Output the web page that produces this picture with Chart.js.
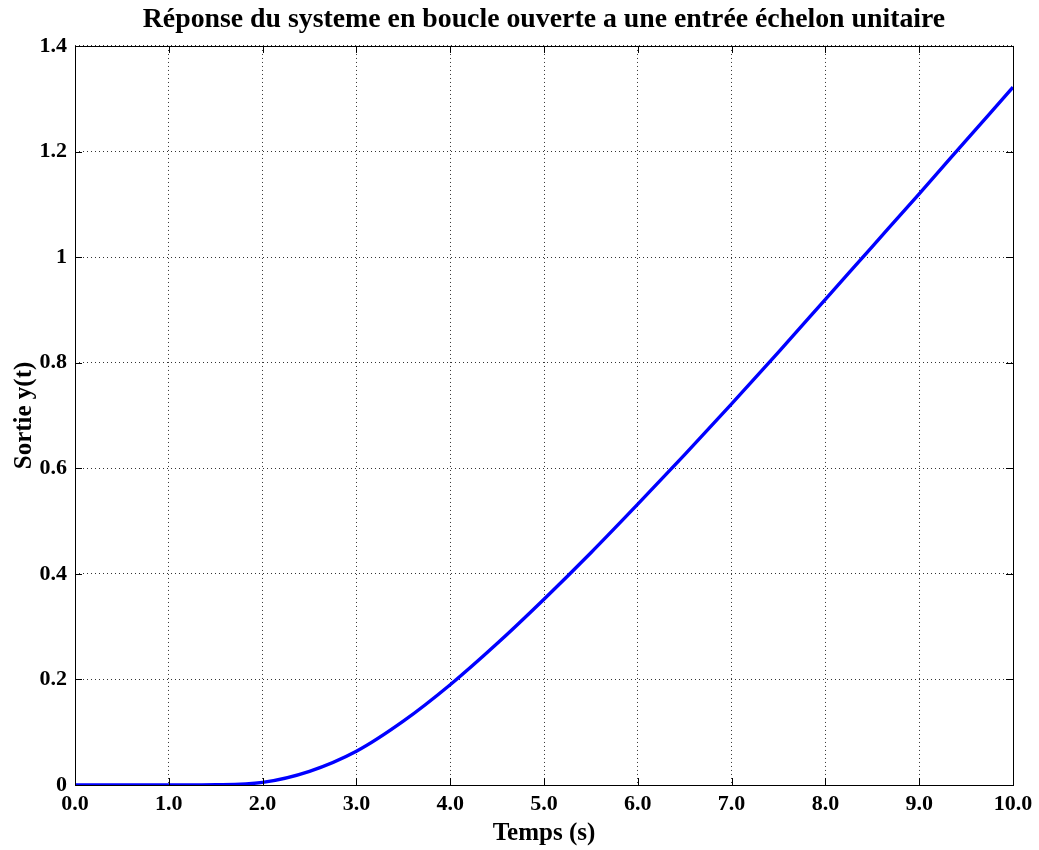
<!DOCTYPE html>
<html>
<head>
<meta charset="utf-8">
<script src="https://cdn.jsdelivr.net/npm/chart.js@4.4.1/dist/chart.umd.min.js"></script>
<style>
html,body{margin:0;padding:0;background:#fff;}
#wrap{width:1039px;height:850px;}
</style>
</head>
<body>
<div id="wrap"><canvas id="c" width="1039" height="850"></canvas></div>
<script>
const temps  = [0, 0.5, 1.0, 1.5, 2.0, 2.5, 3.0, 3.5, 4.0, 4.5, 5.0, 5.5, 6.0, 6.5, 7.0, 7.5, 8.0, 8.5, 9.0, 9.5, 10.0];
const sortie = [0, 0, 0, 0.0005, 0.005, 0.026, 0.064, 0.121, 0.19, 0.268, 0.352, 0.44, 0.532, 0.626, 0.722, 0.82, 0.92, 1.02, 1.12, 1.221, 1.322];
const xTicks = [0,1,2,3,4,5,6,7,8,9,10];
const yTicks = [0,0.2,0.4,0.6,0.8,1,1.2,1.4];
const titleText = "Réponse du systeme en boucle ouverte a une entrée échelon unitaire";
const xLabel = "Temps (s)";
const yLabel = "Sortie y(t)";

const FONT = "'Liberation Serif','Times New Roman',serif";

const frame = {
  id:'frame',
  afterDraw(chart){
    const {ctx, chartArea:a, scales:{x,y}} = chart;
    ctx.save();
    ctx.strokeStyle='#000';
    ctx.lineWidth=1;
    ctx.beginPath();
    xTicks.forEach(v=>{
      const px=Math.round(x.getPixelForValue(v))+0.5;
      ctx.moveTo(px,a.bottom); ctx.lineTo(px,a.bottom-7);
      ctx.moveTo(px,a.top); ctx.lineTo(px,a.top+7);
    });
    yTicks.forEach(v=>{
      const py=Math.round(y.getPixelForValue(v))+0.5;
      ctx.moveTo(a.left,py); ctx.lineTo(a.left+7,py);
      ctx.moveTo(a.right,py); ctx.lineTo(a.right-7,py);
    });
    ctx.stroke();
    ctx.strokeRect(Math.round(a.left)+0.5, Math.round(a.top)+0.5, Math.round(a.right-a.left), Math.round(a.bottom-a.top));
    ctx.restore();
  }
};

new Chart(document.getElementById('c'), {
  type:'line',
  data:{
    datasets:[{
      data: temps.map((t,i)=>({x:t,y:sortie[i]})),
      borderColor:'#0000ff',
      borderWidth:3.4,
      pointRadius:0,
      cubicInterpolationMode:'monotone',
      fill:false
    }]
  },
  options:{
    responsive:false,
    animation:false,
    devicePixelRatio:1,
    layout:{padding:{left:0,right:26,top:0,bottom:0}},
    plugins:{
      legend:{display:false},
      tooltip:{enabled:false},
      title:{
        display:true,
        fullSize:false,
        text:titleText,
        color:'#000',
        font:{family:FONT,size:27.8,weight:'bold'},
        padding:{top:3,bottom:9.6}
      }
    },
    scales:{
      x:{
        type:'linear',
        min:0,max:10,
        afterBuildTicks(s){ s.ticks = xTicks.map(v=>({value:v})); },
        afterFit(s){ s.height=65; },
        border:{display:false, dash:[1,3]},
        grid:{color:'rgba(0,0,0,0.8)', drawTicks:false, lineWidth:1},
        ticks:{color:'#000', padding:6, font:{family:FONT,size:22,weight:'bold'}, callback:v=>v.toFixed(1), maxRotation:0, autoSkip:false},
        title:{display:true,text:xLabel,color:'#000',font:{family:FONT,size:25,weight:'bold'},padding:{top:0,bottom:1}}
      },
      y:{
        type:'linear',
        min:0,max:1.4,
        afterBuildTicks(s){ s.ticks = yTicks.map(v=>({value:v})); },
        afterFit(s){ s.width=75; },
        border:{display:false, dash:[1,3]},
        grid:{color:'rgba(0,0,0,0.8)', drawTicks:false, lineWidth:1},
        ticks:{color:'#000', padding:8, font:{family:FONT,size:22,weight:'bold'}, callback:v=>String(Math.round(v*10)/10), autoSkip:false},
        title:{display:true,text:yLabel,color:'#000',font:{family:FONT,size:25,weight:'bold'},padding:{top:10,bottom:0}}
      }
    }
  },
  plugins:[frame]
});
</script>
</body>
</html>
